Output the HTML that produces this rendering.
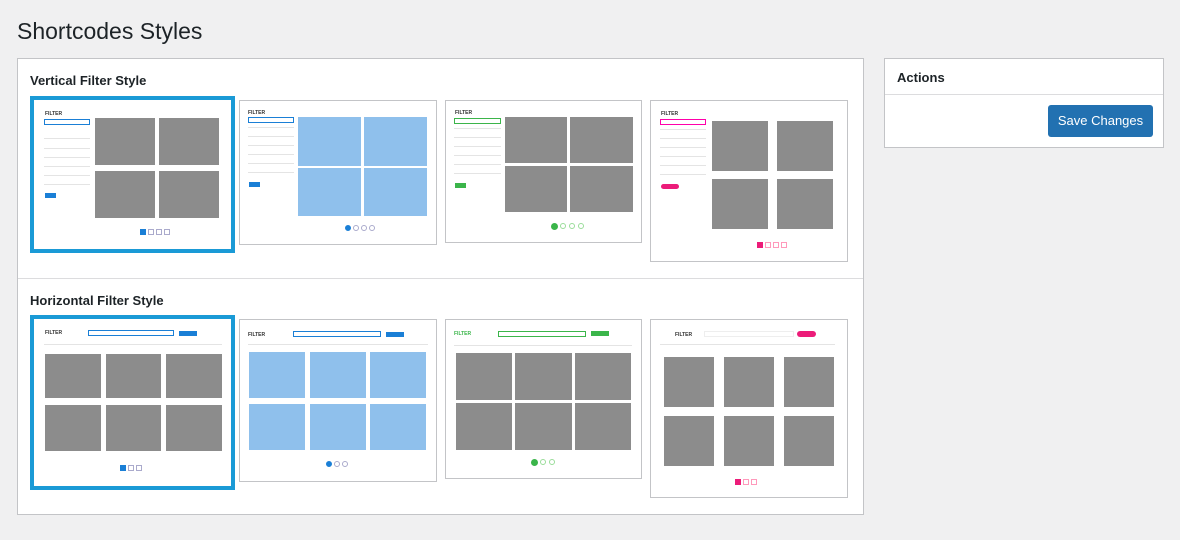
<!DOCTYPE html>
<html><head><meta charset="utf-8"><style>
*{box-sizing:border-box;margin:0;padding:0}
body{width:1180px;height:540px;background:#f0f0f1;font-family:"Liberation Sans",sans-serif;position:relative;overflow:hidden;color:#1d2327}
.a{position:absolute}
h1{position:absolute;left:17px;top:18px;font-size:23px;font-weight:400;color:#1d2327}
.panel{position:absolute;background:#fff;border:1px solid #c3c4c7}
.lbl{position:absolute;font-size:13px;font-weight:600;color:#1d2327}
.th{position:absolute;background:#fff;border:1px solid #c3c4c7}
.sel{border:4px solid #1a9ad6}
.c{position:absolute;background:#8c8c8c}
.b{background:#8fc0ec}
.f{position:absolute;font-size:5px;font-weight:700;color:#333}
.ln{position:absolute;height:1px;background:#e4e4e4}
.in{position:absolute;border:1px solid #ccc;height:6px;background:#fff}
.pg{position:absolute;width:6px;height:6px;border:1px solid #aac}
.btn{position:absolute;height:5px;width:20px}
.cb{position:absolute;width:20px;height:5px}
</style></head><body>
<h1>Shortcodes Styles</h1>

<div class="panel" style="left:17px;top:58px;width:847px;height:457px"></div>
<div class="a" style="left:18px;top:278px;width:845px;height:1px;background:#dcdcde"></div>
<div class="lbl" style="left:30px;top:73px">Vertical Filter Style</div>
<div class="lbl" style="left:30px;top:293px">Horizontal Filter Style</div>

<!-- Vertical 1 -->
<div class="th sel" style="left:30px;top:96px;width:205px;height:157px"></div>
<div class="f" style="left:45px;top:111px">FILTER</div>
<div class="in" style="left:44px;top:119px;width:46px;border-color:#1a7fd6"></div>
<div class="ln" style="left:44px;top:138px;width:46px"></div><div class="ln" style="left:44px;top:148px;width:46px"></div><div class="ln" style="left:44px;top:157px;width:46px"></div><div class="ln" style="left:44px;top:166px;width:46px"></div><div class="ln" style="left:44px;top:175px;width:46px"></div><div class="ln" style="left:44px;top:184px;width:46px"></div>
<div class="btn" style="left:45px;top:193px;width:11px;background:#1a7fd6"></div>
<div class="c" style="left:95px;top:118px;width:60px;height:47px"></div><div class="c" style="left:159px;top:118px;width:60px;height:47px"></div>
<div class="c" style="left:95px;top:171px;width:60px;height:47px"></div><div class="c" style="left:159px;top:171px;width:60px;height:47px"></div>
<div class="pg" style="left:140px;top:229px;background:#1a7fd6;border-color:#1a7fd6"></div><div class="pg" style="left:148px;top:229px"></div><div class="pg" style="left:156px;top:229px"></div><div class="pg" style="left:164px;top:229px"></div>

<!-- Vertical 2 -->
<div class="th" style="left:239px;top:100px;width:198px;height:145px"></div>
<div class="f" style="left:248px;top:110px">FILTER</div>
<div class="in" style="left:248px;top:117px;width:46px;border-color:#1a7fd6"></div>
<div class="ln" style="left:248px;top:127px;width:46px"></div><div class="ln" style="left:248px;top:136px;width:46px"></div><div class="ln" style="left:248px;top:145px;width:46px"></div><div class="ln" style="left:248px;top:154px;width:46px"></div><div class="ln" style="left:248px;top:163px;width:46px"></div><div class="ln" style="left:248px;top:172px;width:46px"></div>
<div class="btn" style="left:249px;top:182px;width:11px;background:#1a7fd6"></div>
<div class="c b" style="left:298px;top:117px;width:63px;height:49px"></div><div class="c b" style="left:364px;top:117px;width:63px;height:49px"></div>
<div class="c b" style="left:298px;top:168px;width:63px;height:48px"></div><div class="c b" style="left:364px;top:168px;width:63px;height:48px"></div>
<div class="pg" style="left:345px;top:225px;border-radius:50%;background:#1a7fd6;border-color:#1a7fd6"></div><div class="pg" style="left:353px;top:225px;border-radius:50%"></div><div class="pg" style="left:361px;top:225px;border-radius:50%"></div><div class="pg" style="left:369px;top:225px;border-radius:50%"></div>

<!-- Vertical 3 -->
<div class="th" style="left:445px;top:100px;width:197px;height:143px"></div>
<div class="f" style="left:455px;top:110px">FILTER</div>
<div class="in" style="left:454px;top:118px;width:47px;border-color:#3bb54a"></div>
<div class="ln" style="left:454px;top:128px;width:47px"></div><div class="ln" style="left:454px;top:137px;width:47px"></div><div class="ln" style="left:454px;top:146px;width:47px"></div><div class="ln" style="left:454px;top:155px;width:47px"></div><div class="ln" style="left:454px;top:164px;width:47px"></div><div class="ln" style="left:454px;top:173px;width:47px"></div>
<div class="btn" style="left:455px;top:183px;width:11px;background:#3bb54a"></div>
<div class="c" style="left:505px;top:117px;width:62px;height:46px"></div><div class="c" style="left:570px;top:117px;width:63px;height:46px"></div>
<div class="c" style="left:505px;top:166px;width:62px;height:46px"></div><div class="c" style="left:570px;top:166px;width:63px;height:46px"></div>
<div class="pg" style="left:551px;top:223px;border-radius:50%;background:#3bb54a;border-color:#3bb54a;width:7px;height:7px"></div><div class="pg" style="left:560px;top:223px;border-radius:50%;border-color:#9d9"></div><div class="pg" style="left:569px;top:223px;border-radius:50%;border-color:#9d9"></div><div class="pg" style="left:578px;top:223px;border-radius:50%;border-color:#9d9"></div>

<!-- Vertical 4 -->
<div class="th" style="left:650px;top:100px;width:198px;height:162px"></div>
<div class="f" style="left:661px;top:111px">FILTER</div>
<div class="in" style="left:660px;top:119px;width:46px;border-color:#f0a"></div>
<div class="ln" style="left:660px;top:129px;width:46px"></div><div class="ln" style="left:660px;top:138px;width:46px"></div><div class="ln" style="left:660px;top:147px;width:46px"></div><div class="ln" style="left:660px;top:156px;width:46px"></div><div class="ln" style="left:660px;top:165px;width:46px"></div><div class="ln" style="left:660px;top:174px;width:46px"></div>
<div class="btn" style="left:661px;top:184px;width:18px;border-radius:3px;background:#ec1c79"></div>
<div class="c" style="left:712px;top:121px;width:56px;height:50px"></div><div class="c" style="left:777px;top:121px;width:56px;height:50px"></div>
<div class="c" style="left:712px;top:179px;width:56px;height:50px"></div><div class="c" style="left:777px;top:179px;width:56px;height:50px"></div>
<div class="pg" style="left:757px;top:242px;background:#ec1c79;border-color:#ec1c79"></div><div class="pg" style="left:765px;top:242px;border-color:#f9b"></div><div class="pg" style="left:773px;top:242px;border-color:#f9b"></div><div class="pg" style="left:781px;top:242px;border-color:#f9b"></div>

<!-- Horizontal 1 -->
<div class="th sel" style="left:30px;top:315px;width:205px;height:175px"></div>
<div class="f" style="left:45px;top:330px">FILTER</div>
<div class="in" style="left:88px;top:330px;width:86px;border-color:#1a7fd6"></div>
<div class="btn" style="left:179px;top:331px;width:18px;background:#1a7fd6"></div>
<div class="ln" style="left:44px;top:344px;width:178px"></div>
<div class="c" style="left:45px;top:354px;width:56px;height:44px"></div><div class="c" style="left:106px;top:354px;width:55px;height:44px"></div><div class="c" style="left:166px;top:354px;width:56px;height:44px"></div>
<div class="c" style="left:45px;top:405px;width:56px;height:46px"></div><div class="c" style="left:106px;top:405px;width:55px;height:46px"></div><div class="c" style="left:166px;top:405px;width:56px;height:46px"></div>
<div class="pg" style="left:120px;top:465px;background:#1a7fd6;border-color:#1a7fd6"></div><div class="pg" style="left:128px;top:465px"></div><div class="pg" style="left:136px;top:465px"></div>

<!-- Horizontal 2 -->
<div class="th" style="left:239px;top:319px;width:198px;height:163px"></div>
<div class="f" style="left:248px;top:332px">FILTER</div>
<div class="in" style="left:293px;top:331px;width:88px;border-color:#1a7fd6"></div>
<div class="btn" style="left:386px;top:332px;width:18px;background:#1a7fd6"></div>
<div class="ln" style="left:248px;top:344px;width:180px"></div>
<div class="c b" style="left:249px;top:352px;width:56px;height:46px"></div><div class="c b" style="left:310px;top:352px;width:56px;height:46px"></div><div class="c b" style="left:370px;top:352px;width:56px;height:46px"></div>
<div class="c b" style="left:249px;top:404px;width:56px;height:46px"></div><div class="c b" style="left:310px;top:404px;width:56px;height:46px"></div><div class="c b" style="left:370px;top:404px;width:56px;height:46px"></div>
<div class="pg" style="left:326px;top:461px;border-radius:50%;background:#1a7fd6;border-color:#1a7fd6"></div><div class="pg" style="left:334px;top:461px;border-radius:50%"></div><div class="pg" style="left:342px;top:461px;border-radius:50%"></div>

<!-- Horizontal 3 -->
<div class="th" style="left:445px;top:319px;width:197px;height:160px"></div>
<div class="f" style="left:454px;top:331px;color:#3bb54a">FILTER</div>
<div class="in" style="left:498px;top:331px;width:88px;border-color:#3bb54a"></div>
<div class="btn" style="left:591px;top:331px;width:18px;background:#3bb54a"></div>
<div class="ln" style="left:454px;top:345px;width:178px"></div>
<div class="c" style="left:456px;top:353px;width:56px;height:47px"></div><div class="c" style="left:515px;top:353px;width:57px;height:47px"></div><div class="c" style="left:575px;top:353px;width:56px;height:47px"></div>
<div class="c" style="left:456px;top:403px;width:56px;height:47px"></div><div class="c" style="left:515px;top:403px;width:57px;height:47px"></div><div class="c" style="left:575px;top:403px;width:56px;height:47px"></div>
<div class="pg" style="left:531px;top:459px;border-radius:50%;background:#3bb54a;border-color:#3bb54a;width:7px;height:7px"></div><div class="pg" style="left:540px;top:459px;border-radius:50%;border-color:#9d9"></div><div class="pg" style="left:549px;top:459px;border-radius:50%;border-color:#9d9"></div>

<!-- Horizontal 4 -->
<div class="th" style="left:650px;top:319px;width:198px;height:179px"></div>
<div class="f" style="left:675px;top:332px">FILTER</div>
<div class="in" style="left:704px;top:331px;width:90px;border-color:#eee"></div>
<div class="btn" style="left:797px;top:331px;width:19px;border-radius:4px;background:#ec1c79;height:6px"></div>
<div class="ln" style="left:660px;top:344px;width:175px"></div>
<div class="c" style="left:664px;top:357px;width:50px;height:50px"></div><div class="c" style="left:724px;top:357px;width:50px;height:50px"></div><div class="c" style="left:784px;top:357px;width:50px;height:50px"></div>
<div class="c" style="left:664px;top:416px;width:50px;height:50px"></div><div class="c" style="left:724px;top:416px;width:50px;height:50px"></div><div class="c" style="left:784px;top:416px;width:50px;height:50px"></div>
<div class="pg" style="left:735px;top:479px;background:#ec1c79;border-color:#ec1c79"></div><div class="pg" style="left:743px;top:479px;border-color:#f9b"></div><div class="pg" style="left:751px;top:479px;border-color:#f9b"></div>

<!-- Actions -->
<div class="panel" style="left:884px;top:58px;width:280px;height:90px"></div>
<div class="a" style="left:885px;top:94px;width:278px;height:1px;background:#dcdcde"></div>
<div class="lbl" style="left:897px;top:70px;font-weight:600">Actions</div>
<div class="a" style="left:1048px;top:105px;width:105px;height:32px;background:#2271b1;border-radius:3px;color:#fff;font-size:13px;line-height:32px;text-align:center">Save Changes</div>
</body></html>
